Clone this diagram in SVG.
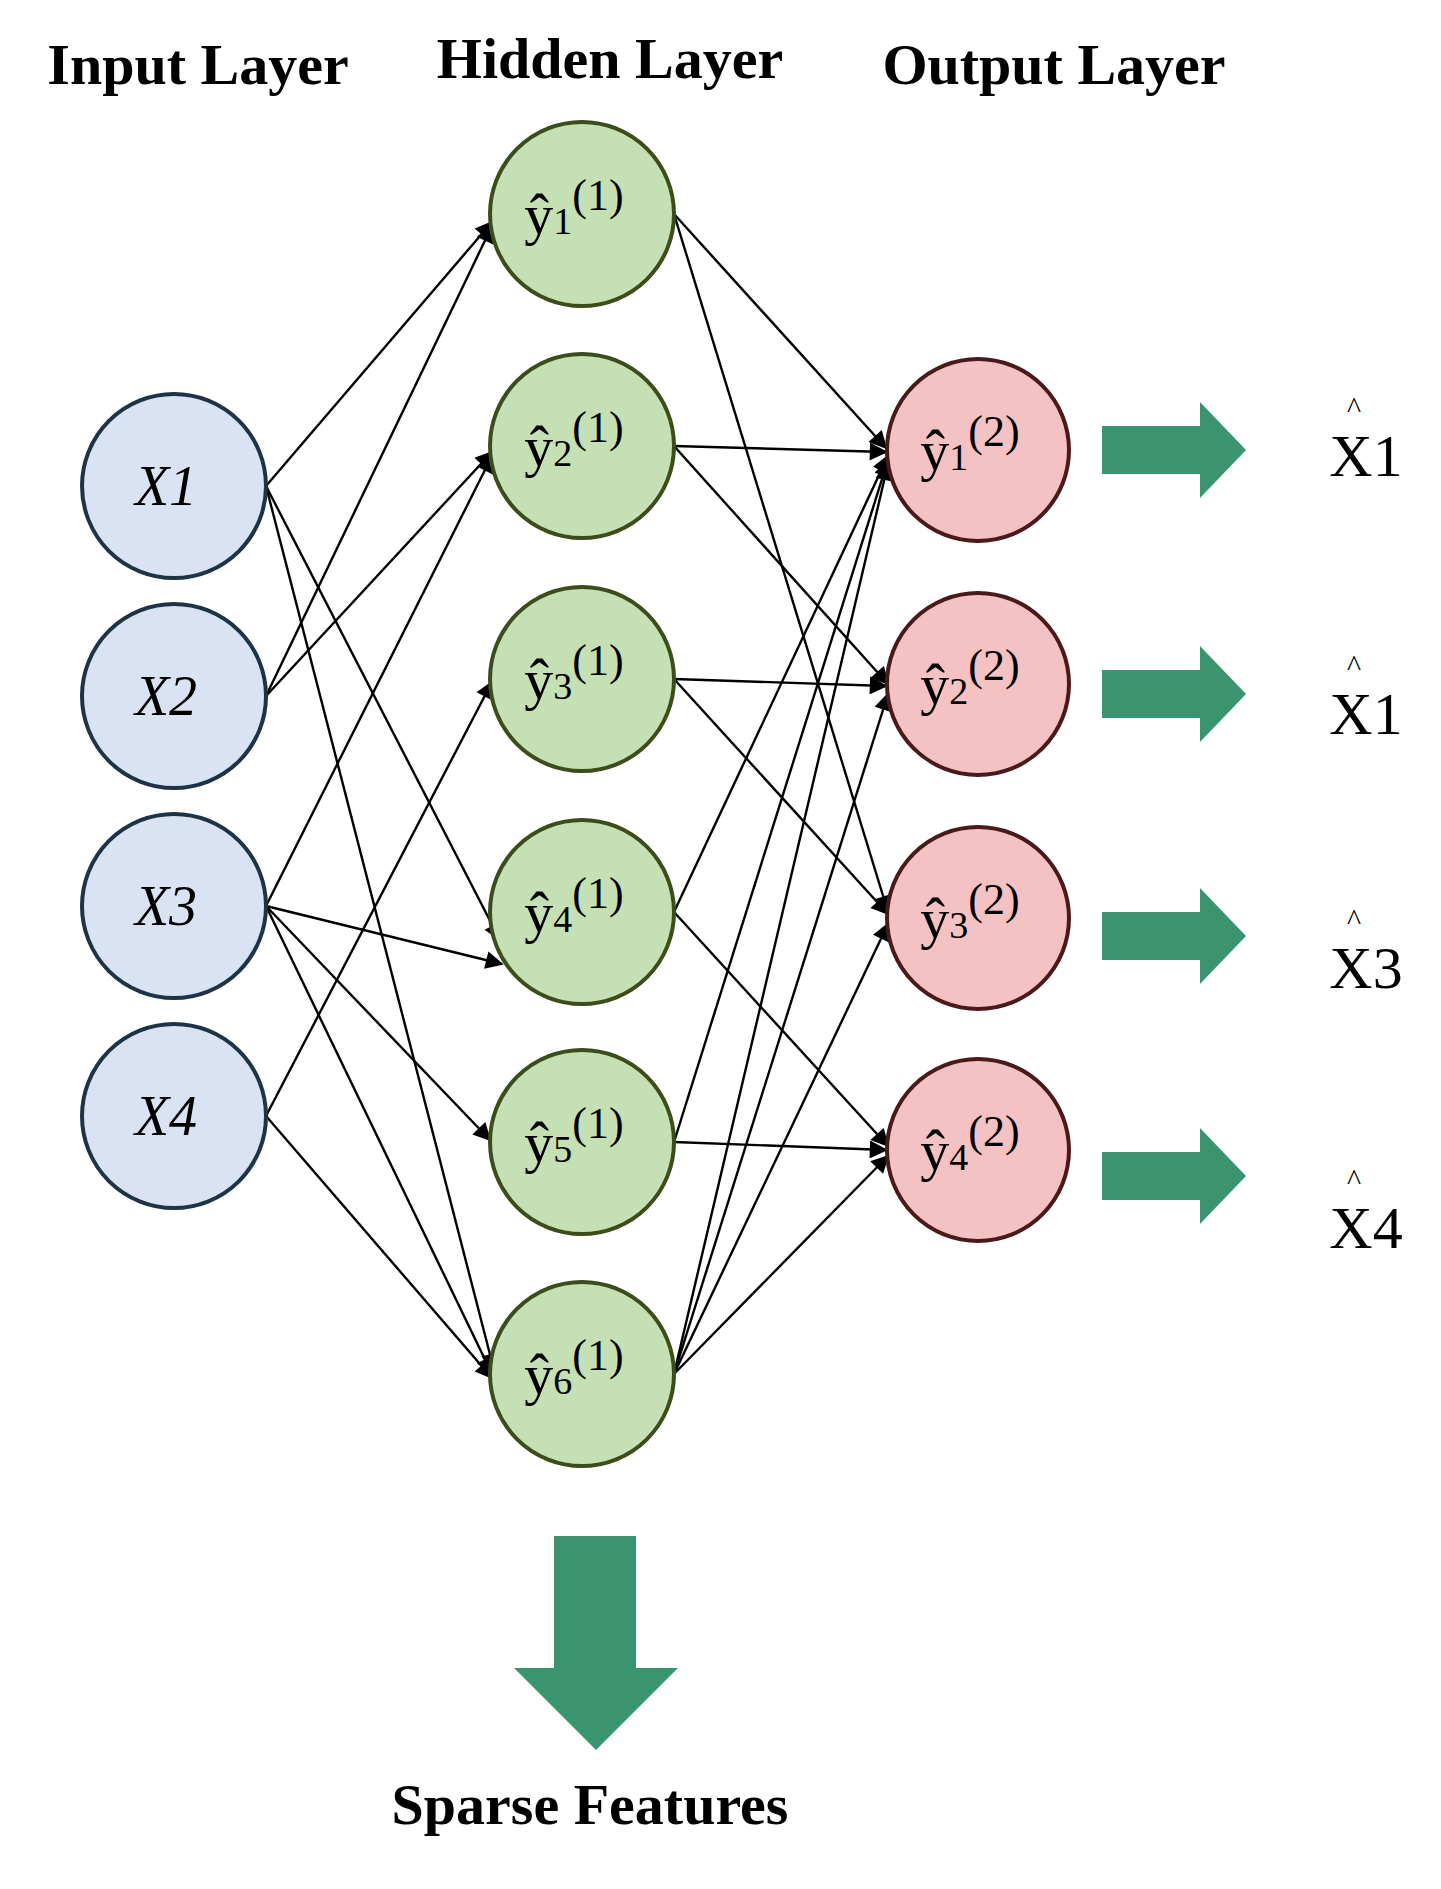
<svg xmlns="http://www.w3.org/2000/svg" width="1441" height="1889" viewBox="0 0 1441 1889">
<defs>
<marker id="ah" viewBox="0 0 10 10" refX="9" refY="5" markerWidth="20" markerHeight="18" markerUnits="userSpaceOnUse" orient="auto"><path d="M0,0 L10,5 L0,10 z" fill="#000"/></marker>
<style>
.t{font-family:"Liberation Serif",serif;font-weight:bold;font-size:58px;fill:#000;text-anchor:middle}
.in{fill:#dae3f3;stroke:#1f3347;stroke-width:4}
.hid{fill:#c5e0b4;stroke:#3b4d1a;stroke-width:4}
.out{fill:#f4c2c2;stroke:#4a1a1a;stroke-width:4}
.lab{font-family:"Liberation Serif",serif;font-size:58px;fill:#000;text-anchor:middle}
.xl{font-family:"Liberation Serif",serif;font-style:italic;font-size:56px;fill:#000;text-anchor:middle}
.c line{stroke:#000;stroke-width:2.4;marker-end:url(#ah)}
.ga{fill:#3a9470}
</style>
</defs>
<rect width="1441" height="1889" fill="#fff"/>
<text class="t" x="198" y="84">Input Layer</text>
<text class="t" x="610" y="78">Hidden Layer</text>
<text class="t" x="1054" y="84">Output Layer</text>
<g class="c">
<line x1="266" y1="486" x2="492" y2="222"/>
<line x1="266" y1="486" x2="500" y2="940"/>
<line x1="266" y1="486" x2="494" y2="1370"/>
<line x1="266" y1="696" x2="492" y2="226"/>
<line x1="266" y1="696" x2="492" y2="452"/>
<line x1="266" y1="906" x2="492" y2="456"/>
<line x1="266" y1="906" x2="502" y2="964"/>
<line x1="266" y1="906" x2="490" y2="1140"/>
<line x1="266" y1="906" x2="492" y2="1374"/>
<line x1="266" y1="1116" x2="492" y2="682"/>
<line x1="266" y1="1116" x2="492" y2="1378"/>
<line x1="674" y1="214" x2="886" y2="448"/>
<line x1="674" y1="214" x2="888" y2="912"/>
<line x1="674" y1="446" x2="886" y2="452"/>
<line x1="674" y1="446" x2="888" y2="684"/>
<line x1="674" y1="679" x2="886" y2="686"/>
<line x1="674" y1="679" x2="888" y2="914"/>
<line x1="674" y1="912" x2="888" y2="456"/>
<line x1="674" y1="912" x2="888" y2="1146"/>
<line x1="674" y1="1142" x2="888" y2="460"/>
<line x1="674" y1="1142" x2="886" y2="1150"/>
<line x1="674" y1="1374" x2="888" y2="464"/>
<line x1="674" y1="1374" x2="888" y2="694"/>
<line x1="674" y1="1374" x2="888" y2="924"/>
<line x1="674" y1="1374" x2="888" y2="1156"/>
</g>
<g id="x1"><circle class="in" cx="174" cy="486" r="92"/><text class="xl" x="166" y="505">X1</text></g>
<g id="x2"><circle class="in" cx="174" cy="696" r="92"/><text class="xl" x="166" y="715">X2</text></g>
<g id="x3"><circle class="in" cx="174" cy="906" r="92"/><text class="xl" x="166" y="925">X3</text></g>
<g id="x4"><circle class="in" cx="174" cy="1116" r="92"/><text class="xl" x="166" y="1135">X4</text></g>
<g id="h1"><circle class="hid" cx="582" cy="214" r="92"/><text class="lab" x="574" y="234">ŷ<tspan font-size="38">1</tspan><tspan font-size="44" dy="-24">(1)</tspan></text></g>
<g id="h2"><circle class="hid" cx="582" cy="446" r="92"/><text class="lab" x="574" y="466">ŷ<tspan font-size="38">2</tspan><tspan font-size="44" dy="-24">(1)</tspan></text></g>
<g id="h3"><circle class="hid" cx="582" cy="679" r="92"/><text class="lab" x="574" y="699">ŷ<tspan font-size="38">3</tspan><tspan font-size="44" dy="-24">(1)</tspan></text></g>
<g id="h4"><circle class="hid" cx="582" cy="912" r="92"/><text class="lab" x="574" y="932">ŷ<tspan font-size="38">4</tspan><tspan font-size="44" dy="-24">(1)</tspan></text></g>
<g id="h5"><circle class="hid" cx="582" cy="1142" r="92"/><text class="lab" x="574" y="1162">ŷ<tspan font-size="38">5</tspan><tspan font-size="44" dy="-24">(1)</tspan></text></g>
<g id="h6"><circle class="hid" cx="582" cy="1374" r="92"/><text class="lab" x="574" y="1394">ŷ<tspan font-size="38">6</tspan><tspan font-size="44" dy="-24">(1)</tspan></text></g>
<g id="o1"><circle class="out" cx="978" cy="450" r="91"/><text class="lab" x="970" y="470">ŷ<tspan font-size="38">1</tspan><tspan font-size="44" dy="-24">(2)</tspan></text></g>
<g id="o2"><circle class="out" cx="978" cy="684" r="91"/><text class="lab" x="970" y="704">ŷ<tspan font-size="38">2</tspan><tspan font-size="44" dy="-24">(2)</tspan></text></g>
<g id="o3"><circle class="out" cx="978" cy="918" r="91"/><text class="lab" x="970" y="938">ŷ<tspan font-size="38">3</tspan><tspan font-size="44" dy="-24">(2)</tspan></text></g>
<g id="o4"><circle class="out" cx="978" cy="1150" r="91"/><text class="lab" x="970" y="1170">ŷ<tspan font-size="38">4</tspan><tspan font-size="44" dy="-24">(2)</tspan></text></g>
<g id="arrows">
<path class="ga" d="M1102,426 H1200 V402 L1246,450 L1200,498 V474 H1102 z"/>
<path class="ga" d="M1102,670 H1200 V646 L1246,694 L1200,742 V718 H1102 z"/>
<path class="ga" d="M1102,912 H1200 V888 L1246,936 L1200,984 V960 H1102 z"/>
<path class="ga" d="M1102,1152 H1200 V1128 L1246,1176 L1200,1224 V1200 H1102 z"/>
<path class="ga" d="M554,1536 H636 V1668 H678 L596,1750 L514,1668 H554 z"/>
</g>
<g id="outs" font-family="Liberation Serif, serif" font-size="60" text-anchor="middle" fill="#000">
<text x="1366" y="476">X1</text><text x="1354" y="418" font-size="30">^</text>
<text x="1366" y="734">X1</text><text x="1354" y="676" font-size="30">^</text>
<text x="1366" y="988">X3</text><text x="1354" y="930" font-size="30">^</text>
<text x="1366" y="1248">X4</text><text x="1354" y="1190" font-size="30">^</text>
</g>
<text class="t" x="590" y="1824">Sparse Features</text>
</svg>
